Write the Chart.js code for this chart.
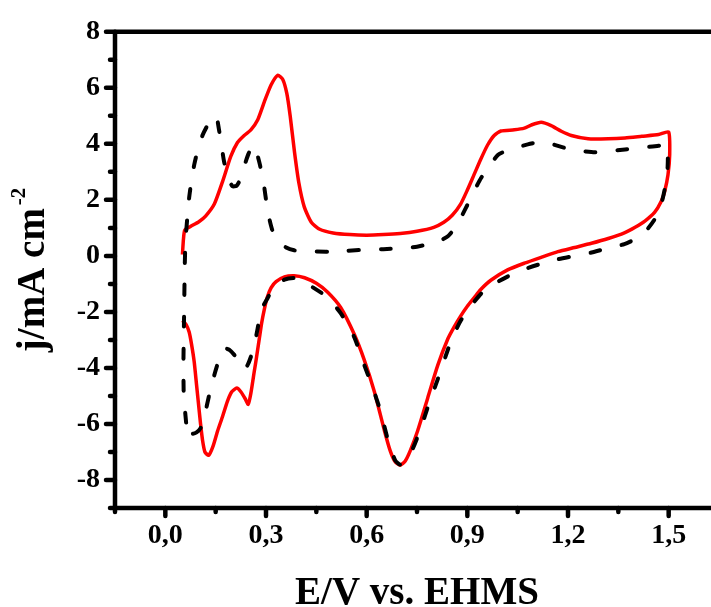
<!DOCTYPE html>
<html lang="en">
<head>
<meta charset="UTF-8">
<title>Cyclic voltammogram</title>
<script src="https://cdn.jsdelivr.net/npm/chart.js@4"></script>
<style>
  html, body { margin: 0; padding: 0; background: #fff; overflow: hidden; }
  #wrap { width: 745px; height: 607px; }
</style>
</head>
<body>
<div id="wrap"><canvas id="cv" width="745" height="607"></canvas></div>
<script>
  // solid red curve (E in V, j in mA cm-2), anodic sweep first then cathodic
  const redE = [0.051, 0.054, 0.058, 0.075, 0.10, 0.12, 0.146, 0.171, 0.195, 0.215, 0.235, 0.255, 0.275, 0.295, 0.315,
    0.335, 0.350, 0.362, 0.372, 0.385, 0.398, 0.414, 0.435, 0.46, 0.50, 0.55, 0.60, 0.65, 0.70, 0.75, 0.80, 0.83,
    0.855, 0.88, 0.90, 0.92, 0.94, 0.96, 0.98, 1.00, 1.04, 1.07, 1.09, 1.12, 1.15, 1.18, 1.21, 1.26, 1.32, 1.37,
    1.42, 1.47, 1.50, 1.503, 1.498, 1.488, 1.478, 1.458, 1.43, 1.40, 1.368, 1.32, 1.27, 1.22, 1.17, 1.12, 1.07,
    1.02, 0.97, 0.94, 0.92, 0.90, 0.88, 0.86, 0.842, 0.812, 0.782, 0.752, 0.73, 0.715, 0.70, 0.685, 0.67, 0.653,
    0.623, 0.593, 0.563, 0.523, 0.484, 0.45, 0.415, 0.384, 0.355, 0.33, 0.315, 0.303, 0.295, 0.287, 0.28, 0.272,
    0.265, 0.255, 0.247, 0.238, 0.225, 0.213, 0.198, 0.185, 0.17, 0.156, 0.142, 0.129, 0.118, 0.111, 0.105, 0.101,
    0.093, 0.086, 0.078, 0.071, 0.062, 0.051];
  const redJ = [0.05, 0.6, 0.92, 1.05, 1.22, 1.42, 1.85, 2.67, 3.55, 4.05, 4.3, 4.5, 4.85, 5.5, 6.1,
    6.45, 6.3, 5.8, 5.0, 3.7, 2.6, 1.75, 1.2, 0.95, 0.82, 0.76, 0.74, 0.76, 0.8, 0.88, 1.02, 1.2,
    1.45, 1.85, 2.35, 2.9, 3.45, 3.95, 4.3, 4.46, 4.5, 4.56, 4.67, 4.77, 4.65, 4.45, 4.3, 4.18, 4.18, 4.21,
    4.27, 4.33, 4.42, 3.6, 2.9, 2.3, 1.95, 1.55, 1.25, 1.02, 0.82, 0.62, 0.45, 0.3, 0.15, -0.05, -0.26,
    -0.5, -0.87, -1.2, -1.5, -1.8, -2.15, -2.55, -2.96, -3.9, -5.07, -6.24, -6.95, -7.32, -7.47, -7.35, -6.95, -6.24,
    -4.85, -3.72, -2.8, -1.85, -1.3, -0.98, -0.78, -0.71, -0.75, -0.92, -1.14, -1.5, -1.91, -2.4, -2.96, -3.6,
    -4.13, -4.9, -5.3, -5.1, -4.85, -4.72, -4.85, -5.19, -5.75, -6.24, -6.8, -7.12, -7.0, -6.59, -6.0, -5.54,
    -4.6, -3.78, -3.15, -2.72, -2.45, -2.31];

  // dashed black curve, closed loop starting at the lower left corner
  const blackE = [0.062, 0.055, 0.054, 0.056, 0.058, 0.060, 0.065, 0.071, 0.078, 0.086, 0.098, 0.111, 0.131, 0.151,
    0.16, 0.168, 0.175, 0.188, 0.2, 0.212, 0.222, 0.235, 0.248, 0.262, 0.272, 0.282, 0.295, 0.305, 0.318, 0.335,
    0.36, 0.384, 0.43, 0.484, 0.54, 0.593, 0.65, 0.70, 0.75, 0.792, 0.82, 0.842, 0.86, 0.876, 0.893, 0.911, 0.926,
    0.941, 0.965, 0.991, 1.015, 1.04, 1.08, 1.12, 1.15, 1.17, 1.2, 1.24, 1.28, 1.32, 1.37, 1.42, 1.47, 1.495,
    1.497, 1.49, 1.478, 1.458, 1.433, 1.40, 1.368, 1.32, 1.27, 1.22, 1.17, 1.12, 1.07, 1.021, 0.98, 0.941, 0.91,
    0.881, 0.86, 0.842, 0.812, 0.785, 0.76, 0.735, 0.715, 0.70, 0.685, 0.663, 0.64, 0.615, 0.593, 0.563, 0.523,
    0.48, 0.434, 0.41, 0.384, 0.355, 0.325, 0.305, 0.285, 0.275, 0.265, 0.255, 0.245, 0.235, 0.22, 0.21, 0.19,
    0.175, 0.16, 0.146, 0.131, 0.116, 0.105, 0.093, 0.08, 0.068, 0.062];
  const blackJ = [-5.95, -5.0, -3.8, -2.0, -0.3, 0.5, 1.3, 2.08, 2.7, 3.25, 3.85, 4.31, 4.77, 5.0,
    4.5, 3.9, 3.37, 2.75, 2.49, 2.5, 2.7, 3.2, 3.65, 3.96, 3.7, 3.25, 2.43, 1.6, 0.95, 0.55,
    0.3, 0.2, 0.16, 0.15, 0.18, 0.22, 0.24, 0.27, 0.33, 0.44, 0.55, 0.7, 0.95, 1.26, 1.65, 2.08, 2.45,
    2.78, 3.2, 3.6, 3.75, 3.84, 3.98, 4.07, 4.0, 3.93, 3.82, 3.74, 3.7, 3.74, 3.8, 3.87, 3.93, 3.98,
    3.2, 2.5, 1.85, 1.3, 0.91, 0.6, 0.42, 0.28, 0.12, 0.0, -0.12, -0.28, -0.48, -0.73, -1.0, -1.35, -1.8,
    -2.3, -2.8, -3.35, -4.4, -5.3, -6.2, -6.95, -7.35, -7.45, -7.3, -6.55, -5.5, -4.6, -3.9, -2.9, -2.05,
    -1.45, -1.08, -0.9, -0.79, -0.85, -1.1, -1.5, -1.95, -2.6, -3.2, -3.6, -3.9, -4.05, -3.85, -3.6, -3.35,
    -3.3, -3.7, -4.25, -4.95, -5.75, -6.15, -6.3, -6.35, -6.2, -5.95];

  // labelled ticks; the others in between are unlabelled minor ticks
  const xMajor = [0, 0.3, 0.6, 0.9, 1.2, 1.5];
  const yMajor = [-8, -6, -4, -2, 0, 2, 4, 6, 8];

  const xTitle = 'E/V vs. EHMS';
  const yTitle = 'j/mA cm';
  const yTitleSup = '-2';

  const serif = '"Liberation Serif", "Times New Roman", serif';

  const toPoints = (xs, ys) => xs.map((v, i) => ({x: v, y: ys[i]}));
  const isMajor = (list, v) => list.some(m => Math.abs(m - v) < 1e-6);

  // thick frame, outward ticks and axis titles
  const framePlugin = {
    id: 'frame',
    afterDraw(chart) {
      const {ctx, chartArea: a, scales: {x, y}} = chart;
      ctx.save();
      ctx.strokeStyle = '#000';
      ctx.lineWidth = 4.5;
      ctx.lineCap = 'round';
      ctx.lineJoin = 'round';
      ctx.strokeRect(a.left, a.top, a.right - a.left, a.bottom - a.top);

      ctx.beginPath();
      x.ticks.forEach(t => {
        const px = x.getPixelForValue(t.value);
        const len = isMajor(xMajor, t.value) ? 8 : 4;
        ctx.moveTo(px, a.bottom);
        ctx.lineTo(px, a.bottom + len);
      });
      y.ticks.forEach(t => {
        const py = y.getPixelForValue(t.value);
        const len = isMajor(yMajor, t.value) ? 9 : 5;
        ctx.moveTo(a.left, py);
        ctx.lineTo(a.left - len, py);
      });
      ctx.stroke();

      ctx.fillStyle = '#000';
      ctx.font = 'bold 39px ' + serif;
      ctx.textAlign = 'center';
      ctx.textBaseline = 'alphabetic';
      ctx.fillText(xTitle, (a.left + a.right) / 2, 604);

      ctx.translate(44, (a.top + a.bottom) / 2);
      ctx.rotate(-Math.PI / 2);
      ctx.textAlign = 'left';
      const w1 = ctx.measureText(yTitle).width;
      ctx.font = 'bold 21px ' + serif;
      const w2 = ctx.measureText(yTitleSup).width;
      const start = -(w1 + w2 + 3) / 2;
      ctx.fillText(yTitleSup, start + w1 + 3, -19);
      ctx.font = 'bold 39px ' + serif;
      ctx.fillText(yTitle, start, 0);
      ctx.restore();
    }
  };

  new Chart(document.getElementById('cv'), {
    type: 'scatter',
    data: {
      datasets: [
        {
          data: toPoints(blackE, blackJ),
          showLine: true,
          borderColor: '#000',
          borderWidth: 4,
          borderDash: [10, 22],
          borderCapStyle: 'round',
          tension: 0.2,
          pointRadius: 0
        },
        {
          data: toPoints(redE, redJ),
          showLine: true,
          borderColor: '#ff0000',
          borderWidth: 3.5,
          tension: 0.2,
          pointRadius: 0
        }
      ]
    },
    options: {
      responsive: false,
      animation: false,
      devicePixelRatio: 1,
      layout: {padding: {top: 25, right: 26, left: 0, bottom: 0}},
      plugins: {legend: {display: false}, tooltip: {enabled: false}},
      scales: {
        x: {
          type: 'linear',
          min: -0.15,
          max: 1.65,
          afterFit(s) { s.height = 99; },
          afterBuildTicks(s) {
            s.ticks = [];
            for (let i = -1; i <= 11; i++) s.ticks.push({value: Math.round(i * 15) / 100});
          },
          grid: {display: false, drawTicks: false},
          border: {display: false},
          ticks: {
            padding: 11,
            maxRotation: 0,
            autoSkip: false,
            color: '#000',
            font: {family: serif, size: 28, weight: 'bold'},
            callback: v => isMajor(xMajor, v) ? v.toFixed(1).replace('.', ',') : ''
          }
        },
        y: {
          type: 'linear',
          min: -9,
          max: 8,
          afterFit(s) { s.width = 115; },
          afterBuildTicks(s) {
            s.ticks = [];
            for (let v = -9; v <= 8; v++) s.ticks.push({value: v});
          },
          grid: {display: false, drawTicks: false},
          border: {display: false},
          ticks: {
            padding: 15,
            autoSkip: false,
            color: '#000',
            font: {family: serif, size: 28, weight: 'bold'},
            callback: v => isMajor(yMajor, v) ? String(v) : ''
          }
        }
      }
    },
    plugins: [framePlugin]
  });
</script>
</body>
</html>
